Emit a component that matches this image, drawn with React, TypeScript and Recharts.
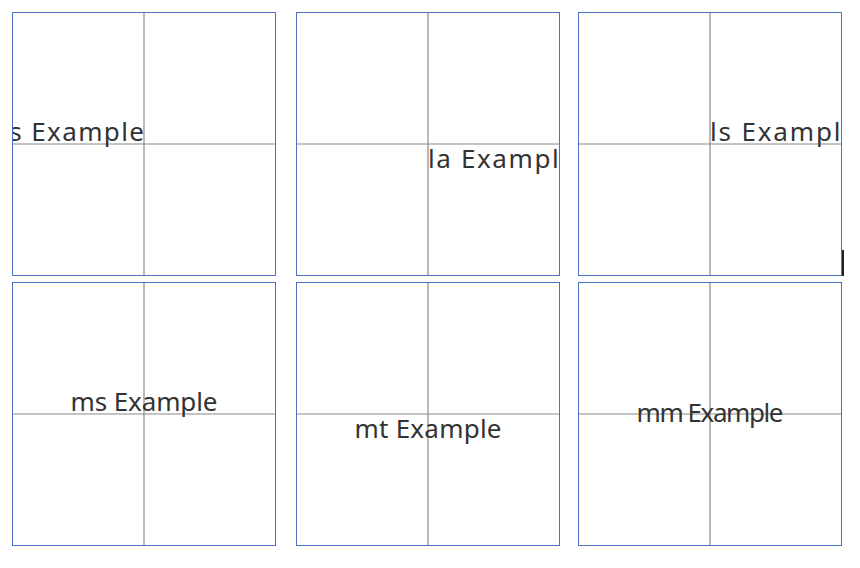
import { ComposedChart, XAxis, YAxis, ReferenceLine, Scatter } from "recharts"

const labels = ["rs Example", "la Example", "ls Example", "ms Example", "mt Example", "mm Example"]
const anchors = ["end", "start", "start", "middle", "middle", "middle"]
const vAligns = ["bottom", "top", "bottom", "bottom", "top", "middle"]
const panelLefts = [12, 296, 578, 12, 296, 578]
const panelTops = [12, 12, 12, 282, 282, 282]
const point = [{ x: 0.5, y: 0.5 }]

const SIZE = 264
const baselineOffset: Record<string, number> = { bottom: -3, top: 24, middle: 8 }

function Panel({ i }: { i: number }) {
  const shape = (props: any) => (
    <text
      x={props.cx}
      y={props.cy + baselineOffset[vAligns[i]]}
      textAnchor={anchors[i]}
      fontSize={26}
      fill="#333"
      fontFamily="Noto Sans"
      textLength={labels[i].length * 14.7}
    >
      {labels[i]}
    </text>
  )
  return (
    <div style={{ position: "absolute", left: panelLefts[i], top: panelTops[i], width: SIZE, height: SIZE, overflow: "hidden" }}>
      <ComposedChart width={SIZE} height={SIZE} margin={{ top: 0, right: 0, bottom: 0, left: 0 }}>
        <XAxis type="number" dataKey="x" domain={[0, 1]} hide />
        <YAxis type="number" dataKey="y" domain={[0, 1]} hide />
        <ReferenceLine x={0.5} stroke="#8a8a8a" strokeWidth={1.2} />
        <ReferenceLine y={0.5} stroke="#8a8a8a" strokeWidth={1.2} />
        <Scatter data={point} shape={shape} isAnimationActive={false} />
      </ComposedChart>
      <div style={{ position: "absolute", inset: 0, border: "1.5px solid #4a72c0", pointerEvents: "none" }} />
    </div>
  )
}

export default function App() {
  return (
    <div style={{ position: "fixed", left: 0, top: 0, width: 860, height: 568, background: "#fff" }}>
      {labels.map((_, i) => (
        <Panel key={i} i={i} />
      ))}
      <div style={{ position: "absolute", left: 842, top: 250, width: 2, height: 26, background: "#222" }} />
    </div>
  )
}
